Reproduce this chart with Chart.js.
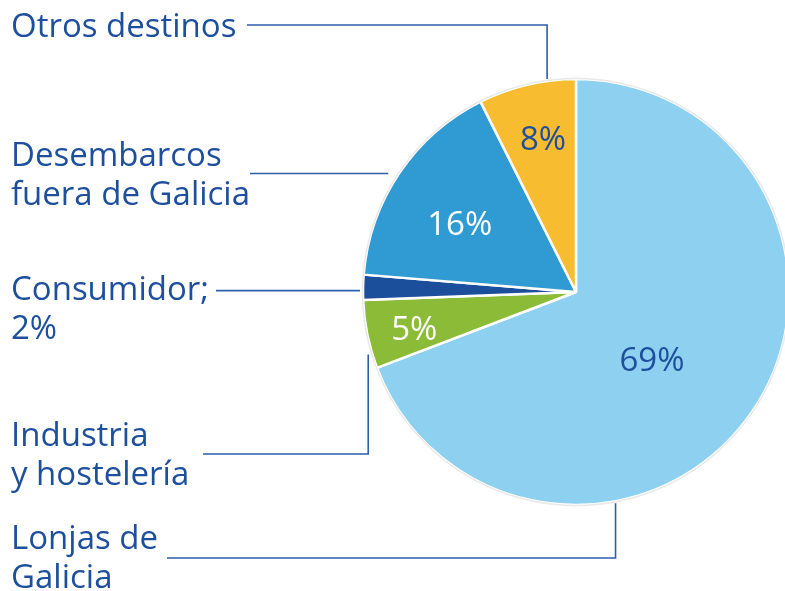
<!DOCTYPE html>
<html>
<head>
<meta charset="utf-8">
<script src="https://cdn.jsdelivr.net/npm/chart.js@4.4.1/dist/chart.umd.min.js"></script>
<style>
  html, body { margin: 0; padding: 0; background: #ffffff; overflow: hidden; }
  #wrap { position: relative; width: 785px; height: 591px; }
</style>
</head>
<body>
<div id="wrap"><canvas id="c" width="785" height="591"></canvas></div>
<script>
// ---- data ----
const categories = ['Lonjas de Galicia', 'Industria y hostelería', 'Consumidor', 'Desembarcos fuera de Galicia', 'Otros destinos'];
// slice sizes (printed labels are rounded)
const values = [69.2, 5.2, 1.9, 16.3, 7.4];
const valueLabels = ['69%', '5%', '2%', '16%', '8%'];
const sliceColors = ['#8dd0f0', '#8cbb38', '#1b4f9b', '#309bd3', '#f8bc30'];

// outside labels (text lines) per slice
const outsideLines = [
  ['Lonjas de', 'Galicia'],
  ['Industria', 'y hostelería'],
  ['Consumidor;', '2%'],
  ['Desembarcos', 'fuera de Galicia'],
  ['Otros destinos']
];

const TEXT = '#1d4f9c';
const LINE = '#2d5ea9';
const FONT = '"Open Sans", "Noto Sans", sans-serif';

// layout of outside labels: baseline of first line, leader start x, leader y (null = anchor y),
// anchor along slice (fraction of angle) and radial offset
const outsideLayout = [
  { base: 549, startX: 167, lineY: 558, frac: 0.68, off: 2 },
  { base: 446, startX: 203, lineY: 454, frac: 0.22, off: 4 },
  { base: 300, startX: 216, lineY: null, frac: 0.37, off: 3 },
  { base: 166, startX: 250, lineY: null, frac: 0.47, off: 9 },
  { base: 37,  startX: 247, lineY: 25,  frac: 0.71, off: 2 }
];
// inside labels: angle fraction and radius fraction, colour
const insideLayout = [
  { frac: 0.53, rf: 0.48, color: TEXT },
  { frac: 0.41, rf: 0.78, color: '#ffffff' },
  null,
  { frac: 0.43, rf: 0.63, color: '#ffffff' },
  { frac: 0.54, rf: 0.73, color: TEXT }
];

function polar(arc, frac, r) {
  const a = arc.startAngle + (arc.endAngle - arc.startAngle) * frac;
  return { x: arc.x + Math.cos(a) * r, y: arc.y + Math.sin(a) * r };
}

const labelPlugin = {
  id: 'labelPlugin',
  afterDatasetsDraw(chart) {
    const ctx = chart.ctx;
    const arcs = chart.getDatasetMeta(0).data;
    ctx.save();
    // thin grey rim
    const a0 = arcs[0];
    ctx.beginPath();
    ctx.arc(a0.x, a0.y, a0.outerRadius + 0.5, 0, Math.PI * 2);
    ctx.strokeStyle = '#e9e9e9';
    ctx.lineWidth = 1.5;
    ctx.stroke();

    // inside labels
    ctx.font = '33px ' + FONT;
    ctx.textAlign = 'center';
    ctx.textBaseline = 'middle';
    arcs.forEach((arc, i) => {
      const L = insideLayout[i];
      if (!L) return;
      const p = polar(arc, L.frac, arc.outerRadius * L.rf);
      ctx.fillStyle = L.color;
      ctx.fillText(valueLabels[i], p.x, p.y + 1);
    });

    // outside labels + leader lines
    ctx.font = '33px ' + FONT;
    ctx.textAlign = 'left';
    ctx.textBaseline = 'alphabetic';
    ctx.fillStyle = TEXT;
    arcs.forEach((arc, i) => {
      const L = outsideLayout[i];
      outsideLines[i].forEach((t, k) => ctx.fillText(t, 11, L.base + k * 39));
      const p = polar(arc, L.frac, arc.outerRadius + L.off);
      const ly = L.lineY === null ? p.y : L.lineY;
      ctx.beginPath();
      ctx.moveTo(L.startX, ly);
      ctx.lineTo(p.x, ly);
      ctx.lineTo(p.x, p.y);
      ctx.strokeStyle = LINE;
      ctx.lineWidth = 1.6;
      ctx.stroke();
    });
    ctx.restore();
  }
};

new Chart(document.getElementById('c'), {
  type: 'pie',
  data: {
    labels: categories,
    datasets: [{
      data: values,
      backgroundColor: sliceColors,
      borderColor: '#ffffff',
      borderWidth: 2.5,
      clip: false
    }]
  },
  options: {
    responsive: false,
    animation: false,
    radius: 213,
    layout: { padding: { left: 367, right: 0, top: 79, bottom: 86 } },
    plugins: { legend: { display: false }, tooltip: { enabled: false } }
  },
  plugins: [labelPlugin]
});
</script>
</body>
</html>
